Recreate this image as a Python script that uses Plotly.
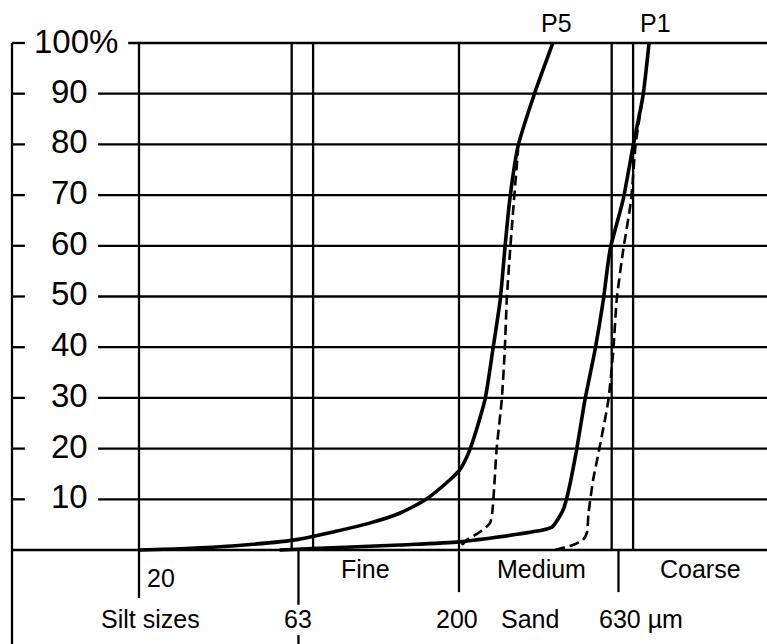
import math
import plotly.graph_objects as go

# ---- cumulative grain-size curves: diameter (µm) vs. cumulative percent ----
p5_um = [20, 28, 39, 63, 105, 131, 157, 187, 201, 216, 241, 255, 269, 278, 288, 306, 343, 393]
p5_pct = [0, 0.3, 0.8, 2.1, 5.3, 7.3, 9.9, 13.8, 15.8, 19.7, 29.6, 39.4, 49.3, 59.2, 69.0, 79.7, 89.7, 100]

p5_dash_um = [204, 212, 233, 250, 254, 258, 262, 272, 278, 282, 289, 297, 306]
p5_dash_pct = [1.0, 2.0, 3.6, 5.3, 7.3, 13.0, 19.7, 29.6, 39.4, 49.3, 59.2, 69.0, 79.0]

p1_um = [55, 70, 131, 201, 333, 390, 423, 438, 466, 495, 532, 565, 593, 651, 700, 752, 785]
p1_pct = [0, 0.3, 1.0, 1.6, 3.5, 4.5, 7.9, 11.2, 19.7, 29.6, 39.4, 49.3, 59.2, 69.0, 79.7, 89.7, 100]

p1_dash_um = [399, 454, 488, 502, 508, 525, 548, 586, 607, 622, 652, 690, 712, 752]
p1_dash_pct = [0, 1.0, 2.0, 3.4, 7.3, 13.8, 19.7, 29.6, 39.4, 49.3, 59.2, 69.0, 79.7, 89.7]

# ---- scale / grid definitions ----
pct_levels = [10, 20, 30, 40, 50, 60, 70, 80, 90, 100]
pct_labels = ["10", "20", "30", "40", "50", "60", "70", "80", "90", "100%"]
grid_um = [20, 60, 70, 200, 600, 700]
class_bounds_um = [20, 63, 200, 630]
bound_labels = ["20", "63", "200", "630 µm"]
sand_classes = ["Fine", "Medium", "Coarse"]
group_labels = ["Silt sizes", "Sand"]
curve_names = ["P5", "P1"]

# ---- layout constants ----
X_RANGE = [0.86666, 3.26353]          # log10(µm)
Y_RANGE = [-18.54, 108.48]            # percent
X_MAX_UM = 10 ** X_RANGE[1]
FRAME_UM = 8.02
TICK_END_UM = 8.8
GRID_START_UM = 14.9
GRID100_START_UM = 18.5
FONT = "Liberation Sans"
INK = "black"
GRID_W = 2.3

fig = go.Figure()


def add_lines(segments, width, dash="solid"):
    xs, ys = [], []
    for (x0, y0, x1, y1) in segments:
        xs += [x0, x1, None]
        ys += [y0, y1, None]
    fig.add_trace(go.Scatter(x=xs, y=ys, mode="lines",
                             line=dict(color=INK, width=width, dash=dash),
                             hoverinfo="skip", showlegend=False))


# horizontal grid lines with their frame ticks
hsegs = []
for p in pct_levels:
    start = GRID100_START_UM if p == 100 else GRID_START_UM
    hsegs.append((start, p, X_MAX_UM, p))
    hsegs.append((FRAME_UM, p, TICK_END_UM, p))
hsegs.append((FRAME_UM, 0, X_MAX_UM, 0))
add_lines(hsegs, GRID_W)

# vertical grid lines and left frame
vsegs = [(u, 0, u, 100) for u in grid_um]
vsegs.append((FRAME_UM, 100, FRAME_UM, Y_RANGE[0]))
add_lines(vsegs, GRID_W)

# size-class boundary ticks below the axis
tick_len = {20: -9.5, 63: -10.8, 200: -8.3, 630: -8.3}
bsegs = [(u, 0, u, tick_len[u]) for u in class_bounds_um]
bsegs.append((63, -16.8, 63, Y_RANGE[0]))
add_lines(bsegs, GRID_W)

# curves
for xs, ys, dash, w in [
    (p5_um, p5_pct, "solid", 3.6),
    (p5_dash_um, p5_dash_pct, "10px,5px", 2.6),
    (p1_um, p1_pct, "solid", 3.6),
    (p1_dash_um, p1_dash_pct, "10px,5px", 2.6),
]:
    fig.add_trace(go.Scatter(x=xs, y=ys, mode="lines",
                             line=dict(color=INK, width=w, dash=dash,
                                       shape="spline", smoothing=0.6),
                             hoverinfo="skip", showlegend=False))

annotations = []


def label(text, um, pct, size, anchor="center"):
    annotations.append(dict(x=math.log10(um), y=pct, xref="x", yref="y",
                            text=text, showarrow=False, xanchor=anchor,
                            yanchor="middle",
                            font=dict(family=FONT, size=size, color=INK)))


# percent axis labels
for p, t in zip(pct_levels, pct_labels):
    if p == 100:
        label(t, 9.25, p + 0.3, 33, "left")
    else:
        label(t, 14.1, p + 0.5, 33, "right")

# class labels beneath the axis
label(bound_labels[0], 20.9, -5.5, 25, "left")
label(bound_labels[1], 63, -13.6, 25)
label(bound_labels[2], 197, -13.6, 25)
label(bound_labels[3], 538, -13.6, 25, "left")
label(sand_classes[0], 102, -3.75, 25)
label(sand_classes[1], 363, -3.75, 25)
label(sand_classes[2], 1133, -3.75, 25)
label(group_labels[0], 21.8, -13.6, 25)
label(group_labels[1], 333, -13.6, 25)

# curve names
label(curve_names[0], 402, 103.9, 25)
label(curve_names[1], 820, 103.9, 25)

fig.update_layout(
    width=767, height=644,
    margin=dict(l=0, r=0, t=0, b=0),
    paper_bgcolor="white", plot_bgcolor="white",
    xaxis=dict(type="log", range=X_RANGE, visible=False, fixedrange=True),
    yaxis=dict(range=Y_RANGE, visible=False, fixedrange=True),
    annotations=annotations,
    showlegend=False,
)

fig.write_html("out.html")
